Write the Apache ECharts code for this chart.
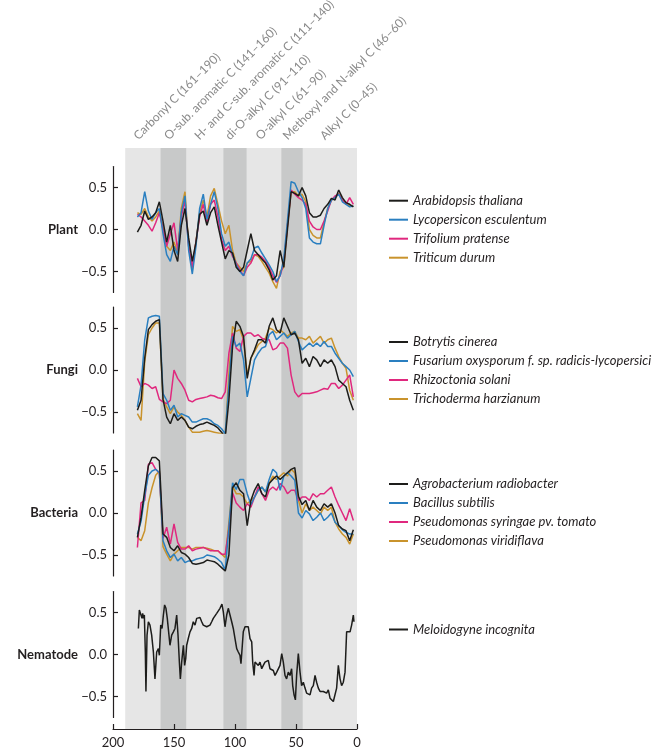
<!DOCTYPE html>
<html><head><meta charset="utf-8">
<script src="https://cdn.jsdelivr.net/npm/echarts@6/dist/echarts.min.js"></script>
<style>html,body{margin:0;padding:0;background:#fff}#c{width:667px;height:749px}</style>
</head><body><div id="c"></div>
<script>
// chemical shift (ppm) positions shared by plant, fungi and bacteria spectra
const ppm = [180,177,174,171,168,165,162,159,156,153,150,147,144,141,138,135,132,129,126,123,120,117,114,111,108,105,102,99,96,93,90,87,84,81,78,75,72,69,66,63,60,57,54,51,48,45,42,39,36,33,30,27,24,21,18,15,12,9,6,3];

const plantArabidopsis = [-0.03,0.05,0.22,0.12,0.15,0.2,0.33,0.1,-0.15,0.05,-0.25,-0.38,0.05,0.25,-0.1,-0.38,-0.15,0.18,0.22,0.05,0.2,0.27,0.05,-0.15,-0.35,-0.25,-0.28,-0.45,-0.5,-0.45,-0.25,-0.05,-0.25,-0.3,-0.35,-0.4,-0.48,-0.6,-0.55,-0.25,-0.45,0.0,0.45,0.43,0.4,0.5,0.4,0.2,0.15,0.15,0.17,0.25,0.3,0.37,0.35,0.47,0.38,0.32,0.3,0.27];
const plantLycopersicon = [0.15,0.2,0.45,0.22,0.12,0.2,0.25,-0.05,-0.3,-0.38,-0.2,-0.3,0.2,0.4,-0.25,-0.53,-0.2,0.25,0.42,0.12,0.3,0.45,0.25,-0.05,-0.2,-0.15,-0.3,-0.42,-0.5,-0.55,-0.4,-0.35,-0.22,-0.2,-0.28,-0.35,-0.42,-0.5,-0.62,-0.55,-0.35,0.1,0.57,0.55,0.45,0.38,0.25,-0.1,-0.15,-0.17,-0.17,0.05,0.25,0.35,0.38,0.42,0.33,0.3,0.27,0.28];
const plantTrifolium = [0.18,0.15,0.1,0.05,-0.02,0.08,0.2,0.0,-0.2,-0.05,0.08,-0.25,0.15,0.35,-0.2,-0.45,-0.15,0.15,0.3,0.08,0.3,0.35,0.15,-0.12,-0.25,-0.2,-0.32,-0.4,-0.48,-0.55,-0.45,-0.4,-0.3,-0.3,-0.33,-0.38,-0.45,-0.55,-0.63,-0.55,-0.4,0.05,0.47,0.42,0.38,0.35,0.3,0.1,0.03,0.0,0.0,0.1,0.22,0.35,0.4,0.42,0.35,0.3,0.38,0.3];
const plantTriticum = [0.2,0.18,0.25,0.15,0.1,0.15,0.22,0.02,-0.2,-0.25,-0.15,-0.28,0.25,0.45,-0.2,-0.48,-0.15,0.2,0.35,0.15,0.4,0.49,0.3,0.1,-0.05,0.05,-0.25,-0.4,-0.45,-0.5,-0.4,-0.38,-0.3,-0.32,-0.38,-0.45,-0.52,-0.62,-0.7,-0.5,-0.45,0.05,0.45,0.45,0.4,0.42,0.33,0.0,-0.07,-0.1,-0.1,0.08,0.25,0.35,0.38,0.43,0.36,0.32,0.28,0.28];

const fungiBotrytis = [-0.48,-0.36,0.14,0.48,0.54,0.58,0.6,-0.35,-0.56,-0.64,-0.52,-0.6,-0.56,-0.6,-0.68,-0.7,-0.67,-0.65,-0.64,-0.62,-0.64,-0.66,-0.69,-0.74,-0.8,-0.36,0.28,0.58,0.52,0.4,-0.1,0.14,0.24,0.36,0.36,0.32,0.52,0.62,0.48,0.44,0.62,0.52,0.42,0.44,0.36,0.08,0.14,0.04,0.16,0.12,0.04,0.12,0.08,0.12,0.04,-0.12,-0.16,-0.2,-0.36,-0.48];
const fungiFusarium = [-0.44,-0.18,0.36,0.62,0.64,0.65,0.64,-0.28,-0.36,-0.48,-0.42,-0.56,-0.52,-0.54,-0.56,-0.62,-0.62,-0.6,-0.58,-0.58,-0.6,-0.64,-0.66,-0.7,-0.76,-0.18,0.4,0.28,0.32,0.12,-0.32,-0.1,0.12,0.2,0.26,0.28,0.42,0.46,0.36,0.4,0.44,0.38,0.42,0.46,0.34,0.24,0.28,0.32,0.28,0.32,0.28,0.34,0.28,0.28,0.2,0.14,0.08,0.04,0.0,-0.08];
const fungiRhizoctonia = [-0.1,-0.2,-0.16,-0.18,-0.22,-0.2,-0.35,-0.38,-0.4,-0.36,0.0,-0.1,-0.16,-0.24,-0.36,-0.38,-0.35,-0.34,-0.33,-0.32,-0.3,-0.31,-0.33,-0.34,-0.26,0.2,0.44,0.26,0.22,0.4,0.44,0.44,0.4,0.42,0.38,0.36,0.36,0.24,0.26,0.32,0.32,0.26,-0.06,-0.26,-0.32,-0.28,-0.28,-0.28,-0.27,-0.26,-0.24,-0.22,-0.23,-0.16,-0.16,-0.22,-0.18,-0.12,-0.06,-0.32];
const fungiTrichoderma = [-0.52,-0.6,0.1,0.42,0.5,0.56,0.56,-0.35,-0.44,-0.52,-0.44,-0.5,-0.54,-0.6,-0.68,-0.74,-0.74,-0.74,-0.73,-0.72,-0.73,-0.74,-0.75,-0.76,-0.78,-0.04,0.52,0.46,0.48,0.36,-0.06,0.14,0.22,0.3,0.34,0.38,0.5,0.48,0.44,0.48,0.44,0.4,0.44,0.46,0.38,0.38,0.36,0.4,0.32,0.36,0.4,0.32,0.36,0.38,0.26,0.16,0.08,0.02,-0.24,-0.36];

const bactAgrobacterium = [-0.29,-0.05,0.27,0.56,0.66,0.66,0.62,-0.25,-0.29,-0.41,-0.45,-0.39,-0.47,-0.49,-0.53,-0.6,-0.61,-0.6,-0.59,-0.56,-0.57,-0.58,-0.61,-0.65,-0.69,-0.5,0.3,0.36,0.27,0.23,-0.15,0.15,0.27,0.35,0.23,0.19,0.35,0.4,0.44,0.4,0.44,0.48,0.52,0.54,0.2,0.1,0.15,0.03,0.15,0.07,0.03,0.11,0.07,0.11,0.0,-0.15,-0.19,-0.21,-0.33,-0.2];
const bactBacillus = [-0.25,-0.1,0.21,0.45,0.5,0.52,0.48,-0.33,-0.45,-0.53,-0.49,-0.57,-0.53,-0.59,-0.57,-0.57,-0.55,-0.54,-0.53,-0.5,-0.51,-0.52,-0.55,-0.59,-0.68,-0.17,0.36,0.28,0.4,0.4,0.23,0.1,0.19,0.27,0.31,0.25,0.4,0.52,0.48,0.27,0.44,0.48,0.44,0.39,0.0,-0.06,0.03,-0.01,-0.09,-0.05,0.0,-0.09,-0.05,0.0,-0.11,-0.15,-0.2,-0.23,-0.25,-0.25];
const bactSyringae = [-0.41,0.12,0.15,0.58,0.6,0.52,0.48,-0.3,-0.17,-0.37,-0.13,-0.35,-0.43,-0.43,-0.39,-0.45,-0.43,-0.42,-0.41,-0.43,-0.45,-0.45,-0.45,-0.49,-0.49,-0.19,0.24,0.12,0.07,0.03,0.11,0.07,0.19,0.31,0.23,0.15,0.27,0.31,0.27,0.35,0.31,0.23,0.27,0.27,0.15,0.19,0.19,0.15,0.23,0.19,0.23,0.23,0.27,0.31,0.19,0.09,0.0,-0.09,0.05,-0.09];
const bactViridiflava = [-0.29,-0.33,-0.21,0.12,0.3,0.45,0.5,-0.4,-0.49,-0.57,-0.49,-0.45,-0.41,-0.41,-0.41,-0.43,-0.41,-0.41,-0.41,-0.42,-0.43,-0.45,-0.45,-0.49,-0.53,-0.11,0.32,0.23,0.23,0.19,0.11,0.15,0.19,0.27,0.31,0.25,0.35,0.44,0.4,0.44,0.48,0.44,0.52,0.48,0.15,0.0,0.11,0.03,0.07,0.03,-0.01,0.07,0.03,0.07,-0.11,-0.19,-0.25,-0.29,-0.37,-0.25];

// nematode spectrum (finer sampling)
const nemPpm = [179.2,178.4,177.0,176.2,175.7,175.1,174.3,173.5,173.0,172.1,171.0,169.7,168.3,166.9,165.6,164.2,162.8,162.0,160.9,159.8,158.7,157.7,156.6,155.5,154.4,153.3,151.9,150.5,149.2,147.8,146.7,145.6,144.8,143.7,142.3,141.3,140.4,139.6,138.3,136.9,135.5,134.2,132.8,131.4,130.1,128.7,127.3,126.0,124.6,123.2,121.9,120.5,119.1,117.8,115.0,112.3,110.7,109.6,108.2,106.8,105.5,104.1,102.7,101.4,100.0,98.6,97.3,95.9,95.1,94.0,93.2,91.8,90.4,89.1,87.7,86.3,85.5,84.4,83.6,82.2,80.9,79.5,78.1,76.8,75.4,74.0,72.7,71.3,69.9,68.6,67.2,65.8,64.5,63.1,61.7,60.4,59.0,57.7,56.3,54.9,53.6,52.7,51.6,50.5,49.5,48.1,46.7,45.4,44.0,42.6,41.3,39.9,38.5,37.2,35.8,34.4,33.1,31.7,30.3,29.0,27.6,26.2,24.9,23.5,22.1,20.8,19.4,18.0,16.7,15.3,13.9,12.6,11.2,9.8,8.5,7.1,5.7,4.4,3.0,2.5];
const nemMeloidogyne = [0.31,0.53,0.51,0.43,0.49,0.43,0.47,0.03,-0.44,0.23,0.39,0.35,0.23,0.03,-0.29,0.03,0.07,-0.01,0.35,0.31,0.47,0.59,0.55,0.43,0.45,0.11,0.23,0.27,0.31,0.47,0.23,-0.09,-0.29,-0.09,0.11,-0.13,-0.05,0.11,0.19,0.27,0.31,0.39,0.35,0.43,0.45,0.44,0.39,0.35,0.33,0.33,0.35,0.35,0.39,0.43,0.49,0.55,0.6,0.51,0.33,0.47,0.55,0.53,0.39,0.31,0.19,0.07,0.03,-0.01,-0.11,0.11,0.27,0.33,0.35,0.33,0.19,0.15,-0.09,-0.25,-0.09,-0.09,-0.13,-0.09,-0.17,-0.13,-0.09,-0.11,-0.07,-0.17,-0.15,-0.19,-0.25,-0.21,-0.19,-0.13,0.01,-0.09,-0.25,-0.29,-0.21,-0.25,-0.17,-0.37,-0.48,-0.54,-0.25,0.01,-0.21,-0.37,-0.33,-0.4,-0.46,-0.44,-0.48,-0.4,-0.37,-0.25,-0.33,-0.4,-0.44,-0.44,-0.44,-0.46,-0.46,-0.42,-0.52,-0.54,-0.56,-0.54,-0.4,-0.13,-0.29,-0.37,-0.33,-0.21,0.27,0.27,0.27,0.35,0.47,0.39];

const panelNames = ['Plant','Fungi','Bacteria','Nematode'];
const seriesNames = [
  ['Arabidopsis thaliana','Lycopersicon esculentum','Trifolium pratense','Triticum durum'],
  ['Botrytis cinerea','Fusarium oxysporum f. sp. radicis-lycopersici','Rhizoctonia solani','Trichoderma harzianum'],
  ['Agrobacterium radiobacter','Bacillus subtilis','Pseudomonas syringae pv. tomato','Pseudomonas viridiflava'],
  ['Meloidogyne incognita']
];
const seriesValues = [
  [plantArabidopsis, plantLycopersicon, plantTrifolium, plantTriticum],
  [fungiBotrytis, fungiFusarium, fungiRhizoctonia, fungiTrichoderma],
  [bactAgrobacterium, bactBacillus, bactSyringae, bactViridiflava],
  [nemMeloidogyne]
];
const seriesX = [ppm, ppm, ppm, nemPpm];
const yTicks = [-0.5, 0, 0.5];
const xTicks = [200,150,100,50,0];

const regionLabels = ['Carbonyl C (161\u2013190)','O-sub. aromatic C (141\u2013160)','H- and C-sub. aromatic C (111\u2013140)','di-O-alkyl C (91\u2013110)','O-alkyl C (61\u201390)','Methoxyl and N-alkyl C (46\u201360)','Alkyl C (0\u201345)'];
const regionCenters = [175.5,150.5,125.5,100.5,75.5,53,22.5];
const lightBand = [190, 0];
const darkBands = [[161,140],[109.5,90.5],[62,44.5]];

const colors = ['#1d1d1b','#2a7fc0','#e0287e','#c9932c'];
const FONT = 'Lato, "Liberation Sans", sans-serif';
const INK = '#231f20';

const gridTops = [166.5, 307, 450, 591.5];
const panelH = 126;
const legendTops = [193.7, 335, 477, 622.5];

const chart = echarts.init(document.getElementById('c'));

const grid = gridTops.map(t => ({left:113, width:244, top:t, height:panelH}));
grid.push({left:113, width:244, top:148, height:589});

const xAxis = gridTops.map((t,i) => ({gridIndex:i, type:'value', min:0, max:200, inverse:true, show:false}));
xAxis.push({gridIndex:4, type:'value', min:0, max:200, inverse:true, interval:50, z:10,
  axisLine:{show:true, onZero:false, lineStyle:{color:INK, width:1.2}},
  axisTick:{show:true, inside:true, length:5, lineStyle:{color:INK, width:1.2}},
  axisLabel:{margin:7, color:INK, fontSize:13, fontFamily:FONT},
  splitLine:{show:false}});

const yAxis = gridTops.map((t,i) => ({gridIndex:i, type:'value', min:-0.75, max:0.75, z:10, position:'left',
  axisLine:{show:true, onZero:false, lineStyle:{color:INK, width:1.2}},
  axisTick:{show:true, inside:true, length:5, customValues:yTicks, lineStyle:{color:INK, width:1.2}},
  axisLabel:{customValues:yTicks, margin:6, color:INK, fontSize:13, fontFamily:FONT,
    formatter: v => (v < 0 ? '\u2212' : '') + Math.abs(v).toFixed(1)},
  splitLine:{show:false}}));
yAxis.push({gridIndex:4, type:'value', min:0, max:1, show:false});

const series = [];
const bandData = [[{xAxis:lightBand[0], yAxis:0, itemStyle:{color:'#e6e6e6'}},{xAxis:lightBand[1], yAxis:1}]];
darkBands.forEach(b => bandData.push([{xAxis:b[0], yAxis:0, itemStyle:{color:'#c8c9c9'}},{xAxis:b[1], yAxis:1}]));
series.push({type:'line', xAxisIndex:4, yAxisIndex:4, data:[[0,0]], symbol:'none', silent:true, z:1,
  lineStyle:{opacity:0}, markArea:{silent:true, data:bandData}});

seriesNames.forEach((names, p) => {
  names.forEach((name, k) => {
    const xs = seriesX[p], ys = seriesValues[p][k];
    const n = Math.min(xs.length, ys.length);
    const data = [];
    for (let i = 0; i < n; i++) data.push([xs[i], ys[i]]);
    series.push({type:'line', name, xAxisIndex:p, yAxisIndex:p, data, symbol:'none', showSymbol:false,
      z: 6 - k, lineStyle:{width:1.5, color:colors[k]}, itemStyle:{color:colors[k]}, animation:false});
  });
});

const legend = seriesNames.map((names, p) => ({data:names, orient:'vertical', left:389, top:legendTops[p], padding:0,
  icon:'rect', itemWidth:19, itemHeight:2, itemGap:5,
  textStyle:{fontStyle:'italic', fontSize:13, fontFamily:FONT, color:INK, lineHeight:14}}));

chart.setOption({animation:false, grid, xAxis, yAxis, series, legend});

const graphic = [];
panelNames.forEach((name, p) => {
  graphic.push({type:'text', x:78, y:gridTops[p] + panelH/2,
    style:{text:name, font:'bold 13px ' + FONT, fill:INK, align:'right', verticalAlign:'middle', textAlign:'right', textVerticalAlign:'middle'}});
});
regionLabels.forEach((label, i) => {
  const px = chart.convertToPixel({xAxisIndex:4}, regionCenters[i]);
  graphic.push({type:'text', x:px - 3, y:142, rotation:Math.PI/4,
    style:{text:label, font:'12px ' + FONT, fill:'#8a8a8a', align:'left', verticalAlign:'bottom', textAlign:'left', textVerticalAlign:'bottom'}});
});
chart.setOption({graphic});
</script></body></html>
